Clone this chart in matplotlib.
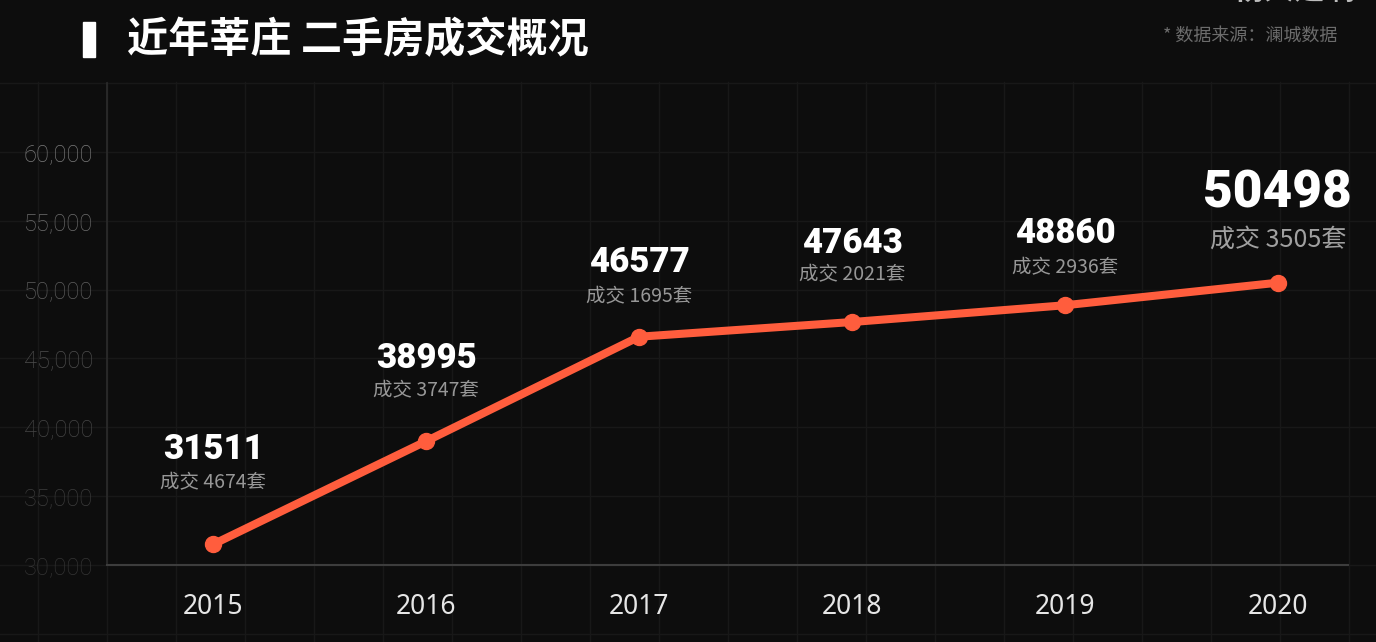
import matplotlib.pyplot as plt

plt.rcParams['font.family'] = ['Noto Sans CJK SC', 'DejaVu Sans']

# data
years = ['2015', '2016', '2017', '2018', '2019', '2020']
prices = [31511, 38995, 46577, 47643, 48860, 50498]
deals = [4674, 3747, 1695, 2021, 2936, 3505]
y_ticks = [30000, 35000, 40000, 45000, 50000, 55000, 60000]

title = '近年莘庄 二手房成交概况'
source = '* 数据来源：澜城数据'
watermark = '杨大建啊'

# label placement above each point (pixels)
num_offsets = [95, 83, 74, 79, 72, 89]
sub_offsets = [61, 50, 40, 47, 38, 43]

BG = '#0d0d0d'
LINE = '#ff5d3d'
W, H = 1376, 642

fig = plt.figure(figsize=(W / 100, H / 100), dpi=100, facecolor=BG)

# background grid (decorative)
bg = fig.add_axes([0, 0, 1, 1], zorder=-1)
bg.set_xlim(0, W)
bg.set_ylim(H, 0)
bg.axis('off')
for k in range(20):
    x = 38 + 69 * k
    bg.plot([x, x], [82, H], color='#181818', lw=1)
for k in range(9):
    y = 83 + 68.85 * k
    bg.plot([0, W], [y, y], color='#181818', lw=1)

# title block
bg.add_patch(plt.Rectangle((83, 22), 12, 35, color='white'))
bg.text(127, 40, title, color='white', fontsize=29.6, fontweight='bold',
        va='center', ha='left')
bg.text(1337, 36, source, color='#6c6c6c', fontsize=13, va='center', ha='right')
bg.text(1355, 6, watermark, color='#bdbdbd', fontsize=22, fontweight='bold',
        va='bottom', ha='right')

# main chart
ax = fig.add_axes([107 / W, (H - 565) / H, (1348 - 107) / W, (565 - 83) / H])
ax.set_facecolor('none')
xs = list(range(len(years)))
ax.plot(xs, prices, color=LINE, lw=5.8, marker='o', markersize=11.5,
        solid_capstyle='round', zorder=3)

ax.set_xlim(-0.5, 5.33)
ax.set_ylim(30000, 65000)
ax.set_xticks(xs)
ax.set_xticklabels(years)
ax.set_yticks(y_ticks)
ax.set_yticklabels([f'{v:,}' for v in y_ticks])

for s in ['top', 'right']:
    ax.spines[s].set_visible(False)
ax.spines['bottom'].set_color('#3d3d3d')
ax.spines['bottom'].set_linewidth(1.5)
ax.spines['left'].set_color('#2c2c2c')
ax.spines['left'].set_linewidth(1.2)

ax.tick_params(axis='x', length=0, pad=20, labelsize=19, labelcolor='#e6e6e6')
ax.tick_params(axis='y', length=0, pad=10)
for lab in ax.get_xticklabels():
    lab.set_fontfamily(['Noto Sans', 'DejaVu Sans'])
# y labels fade towards the bottom
y_colors = ['#343434', '#3c3c3c', '#454545', '#4e4e4e', '#5e5e5e', '#6c6c6c', '#7a7a7a']
for lab, c in zip(ax.get_yticklabels(), y_colors):
    lab.set_color(c)
    lab.set_fontfamily(['Roboto', 'DejaVu Sans'])
    lab.set_fontweight('light')
    lab.set_fontsize(17)

# value labels
for i, (p, d) in enumerate(zip(prices, deals)):
    big = i == len(prices) - 1
    ax.annotate(str(p), (i, p), xytext=(0, num_offsets[i] * 0.72),
                textcoords='offset points', ha='center', va='center',
                color='white', fontsize=37 if big else 25, fontweight='black',
                family=['Roboto', 'DejaVu Sans'])
    ax.annotate(f'成交 {d}套', (i, p), xytext=(0, sub_offsets[i] * 0.72),
                textcoords='offset points', ha='center', va='center',
                color='#a0a0a0' if big else '#979797', fontsize=18 if big else 14)

fig.savefig('out.png', dpi=100, facecolor=BG)
